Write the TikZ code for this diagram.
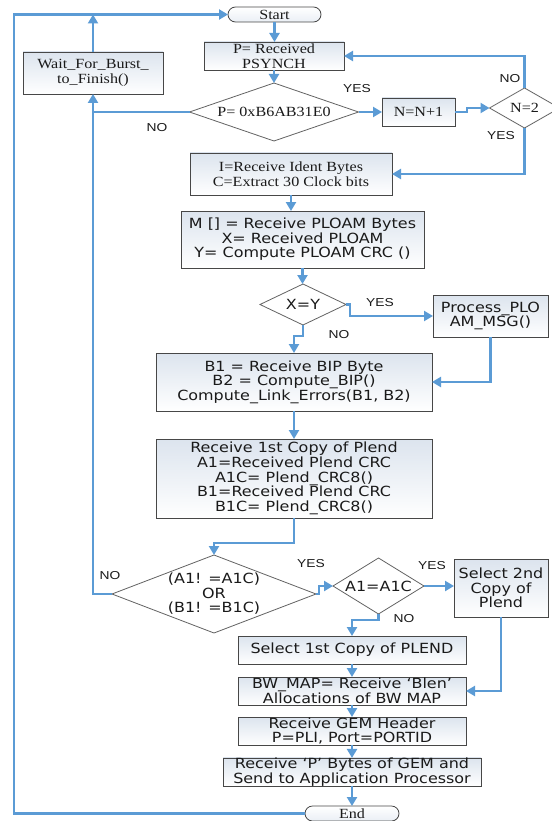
\documentclass[tikz,border=0pt]{standalone}
\usepackage{fontspec}
\usetikzlibrary{arrows.meta,shapes.geometric}
\newfontfamily\serifF[FakeStretch=1.15]{Liberation Serif}
\newfontfamily\sansF[FakeStretch=1.14]{DejaVu Sans}
\newfontfamily\lblF[FakeStretch=1.2]{Liberation Sans}
\definecolor{flow}{HTML}{5B9BD5}
\definecolor{edge}{HTML}{474747}
\definecolor{boxtop}{HTML}{DCE4EE}
\definecolor{txt}{HTML}{1A1A1A}
\tikzset{
  x=1pt, y=-1pt,
  base/.style={draw=edge, line width=0.8pt, inner sep=0pt, outer sep=0pt, text=txt, align=center},
  sbox/.style={base, rectangle, top color=boxtop, bottom color=white, font=\sansF\fontsize{14}{14.6}\selectfont},
  tbox/.style={base, rectangle, top color=boxtop, bottom color=white, font=\serifF\fontsize{14}{15}\selectfont},
  term/.style={base, rectangle, rounded corners=7.5pt, top color=white, bottom color=boxtop!60, font=\serifF\fontsize{14}{15}\selectfont},
  dec/.style={base, diamond, draw=edge!85, fill=white},
  sdec/.style={dec, font=\sansF\fontsize{14}{14.6}\selectfont},
  tdec/.style={dec, font=\serifF\fontsize{14}{15}\selectfont},
  wire/.style={draw=flow, line width=2.6pt},
  arr/.style={wire, -{Triangle[length=9pt,width=10pt]}},
  lbl/.style={font=\lblF\fontsize{11.5}{12}\selectfont, text=txt, inner sep=0pt}
}
\begin{document}
\begin{tikzpicture}
\useasboundingbox[fill=white] (0,0) rectangle (551,821);

% nodes
\node[term, minimum width=93pt, minimum height=15pt] (start) at (274.5,14.5) {Start};
\node[tbox, minimum width=140pt, minimum height=28pt] (pbox) at (274,56) {P= Received\\PSYNCH};
\node[tdec, minimum width=169pt, minimum height=58pt, aspect=2.9] (pdia) at (274,112) {P= 0xB6AB31E0};
\node[tbox, minimum width=73pt, minimum height=28pt] (nbox) at (418.5,112) {N=N+1};
\node[tdec, minimum width=70pt, minimum height=40pt, aspect=1.75] (n2) at (524.5,108) {N=2};
\node[tbox, minimum width=202pt, minimum height=42pt] (ibox) at (291,174) {I=Receive Ident Bytes\\C=Extract 30 Clock bits};
\node[tbox, minimum width=140pt, minimum height=42pt] (wait) at (93,73) {Wait\_For\_Burst\_\\to\_Finish()};
\node[sbox, minimum width=243pt, minimum height=57pt] (mbox) at (302.5,239.5) {M [] = Receive PLOAM Bytes\\X= Received PLOAM\\ Y= Compute PLOAM CRC ()};
\node[sdec, minimum width=86pt, minimum height=41pt, aspect=2.1] (xy) at (303,304.5) {X=Y};
\node[sbox, minimum width=115pt, minimum height=42pt] (proc) at (490.5,316) {Process\_PLO\\AM\_MSG()};
\node[sbox, minimum width=276pt, minimum height=58pt] (b1) at (294,382) {B1 = Receive BIP Byte\\B2 = Compute\_BIP()\\Compute\_Link\_Errors(B1, B2)};
\node[sbox, minimum width=276pt, minimum height=79pt] (plend) at (294,478.5) {Receive 1st Copy of Plend\\A1=Received Plend CRC\\ A1C= Plend\_CRC8()\\B1=Received Plend CRC\\ B1C= Plend\_CRC8()};
\node[sdec, minimum width=204pt, minimum height=78pt, aspect=2.6] (bigdia) at (214,594) {(A1! =A1C)\\OR\\(B1! =B1C)};
\node[sdec, minimum width=91pt, minimum height=56pt, aspect=1.62] (a1) at (378.5,586) {A1=A1C};
\node[sbox, minimum width=94pt, minimum height=58pt] (sel2) at (501,588) {Select 2nd\\Copy of\\Plend};
\node[sbox, minimum width=228pt, minimum height=28pt] (sel1) at (352,650) {Select 1st Copy of PLEND};
\node[sbox, minimum width=228pt, minimum height=28pt] (bw) at (352,691) {BW\_MAP= Receive ‘Blen’\\Allocations of BW MAP};
\node[sbox, minimum width=228pt, minimum height=28pt] (gem) at (352,731) {Receive GEM Header\\ P=PLI, Port=PORTID};
\node[sbox, minimum width=258pt, minimum height=28pt] (recvp) at (352,772) {Receive ‘P’ Bytes of GEM and\\Send to Application Processor};
\node[term, minimum width=94pt, minimum height=15pt] (endn) at (352,813.5) {End};
\coordinate (rail) at (14,400);

% connectors
\draw[arr] (start.south) -- (start.south |- pbox.north);
\draw[arr] (pbox.south) -- (pdia.north);
\draw[arr] (pdia.east) -- (nbox.west);
\draw[arr] (nbox.east) -- ++(12,0) -- ++(0,-4) -- (n2.west);
\draw[arr] (n2.north) |- (pbox.east);
\draw[arr] (n2.south) |- (ibox.east);
\draw[wire] (pdia.west) -- (pdia.west -| wait.south);
\draw[arr] (bigdia.west) -| (wait.south);
\draw[arr] (wait.north) -- (wait.north |- start.west);
\draw[arr] (endn.west) -- (endn.west -| rail) -- (rail |- start.west) -- (start.west);
\draw[arr] (ibox.south) -- (ibox.south |- mbox.north);
\draw[arr] (mbox.south) -- (mbox.south |- xy.north);
\draw[arr] (xy.east) -- ++(4,0) |- (proc.west);
\draw[arr] (proc.south) |- (b1.east);
\draw[arr] (xy.south) -- ++(0,11) -| (b1.north);
\draw[arr] (b1.south) -- (plend.north);
\draw[arr] (plend.south) -- ++(0,25) -| (bigdia.north);
\draw[arr] (bigdia.east) -- ++(3,0) |- (a1.west);
\draw[arr] (a1.east) -- (a1.east -| sel2.west);
\draw[arr] (sel2.south) |- (bw.east);
\draw[arr] (a1.south) -- ++(0,6) -| (sel1.north);
\draw[arr] (sel1.south) -- (bw.north);
\draw[arr] (bw.south) -- (gem.north);
\draw[arr] (gem.south) -- (recvp.north);
\draw[arr] (recvp.south) -- (endn.north);

% labels
\node[lbl] (l1) at (357,89) {YES};
\node[lbl] (l2) at (157,128) {NO};
\node[lbl] (l3) at (510,79) {NO};
\node[lbl] (l4) at (501,136) {YES};
\node[lbl] (l5) at (380,303) {YES};
\node[lbl] (l6) at (339,335) {NO};
\node[lbl] (l7) at (110,576) {NO};
\node[lbl] (l8) at (311,564) {YES};
\node[lbl] (l9) at (432,566) {YES};
\node[lbl] (l10) at (404,619) {NO};
\end{tikzpicture}
\end{document}
